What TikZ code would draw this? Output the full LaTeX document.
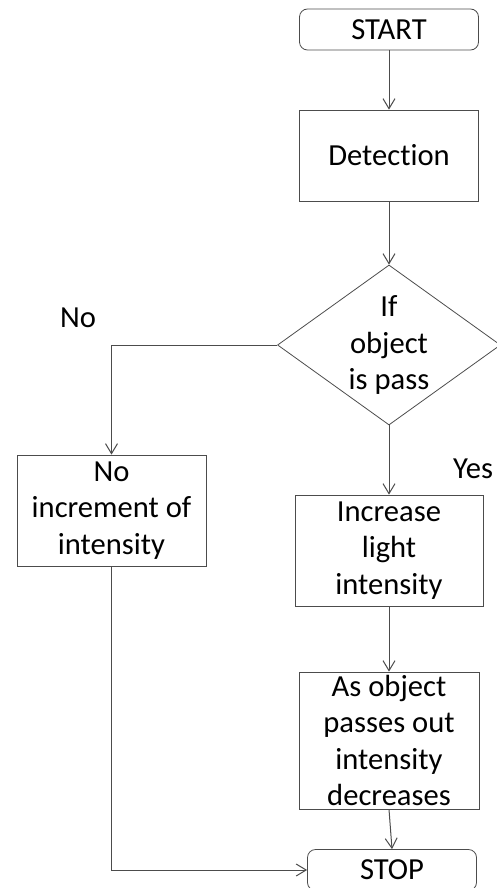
\documentclass[tikz,border=0pt]{standalone}
\usepackage{fontspec}
\setmainfont{Carlito}[Ligatures={NoCommon}]
\usetikzlibrary{shapes.geometric, arrows, arrows.meta}
\definecolor{linegray}{gray}{0.3}
\tikzstyle{startstop} = [rectangle, rounded corners=4pt, minimum width=89.5pt, minimum height=20.5pt, text centered, draw=linegray, inner sep=0pt]
\tikzstyle{process} = [rectangle, minimum width=94pt, minimum height=55.5pt, align=center, draw=linegray, inner sep=0pt]
\tikzstyle{decision} = [diamond, aspect=1.39, minimum width=111.5pt, minimum height=80pt, align=center, draw=linegray, inner sep=0pt]
\tikzstyle{arrow} = [line width=0.5pt, draw=linegray, ->, >={Straight Barb[length=5pt,width=6pt]}]

\begin{document}
\begin{tikzpicture}[node distance=60pt, font=\fontsize{15.3pt}{18.25pt}\selectfont]
\useasboundingbox (0,0) rectangle (248.5pt,-444pt);

\node (start) [startstop] at (194.5pt,-14.75pt) {START};

\node (detect) [process, minimum width=89.5pt, minimum height=45.5pt, below of=start, yshift=-3pt] {Detection};

\node (pass) [decision, below of=detect, yshift=-34.75pt] {If\\object\\is pass};

\node (incr) [process, below of=pass, yshift=-42.75pt] {Increase\\light\\intensity};

\node (decr) [process, minimum width=90pt, minimum height=68.5pt, below of=incr, yshift=-35pt] {As object\\passes out\\intensity\\decreases};

\node (stop) [startstop, minimum width=84.5pt, below of=decr, xshift=1.5pt, yshift=-4.75pt] {STOP};

\node (noinc) [process, minimum width=94.5pt, left of=incr, xshift=-78.75pt, yshift=20pt] {No\\increment of\\intensity};

\node (no) at (39pt,-159pt) {No};
\node (yes) at (236.5pt,-234.5pt) {Yes};

\draw [arrow] (start) -- (detect);
\draw [arrow] (detect) -- (pass);
\draw [arrow] (pass.west) -| (noinc.north);
\draw [arrow] (pass) -- (incr);
\draw [arrow] (incr) -- (decr);
\draw [arrow] (decr.south) -- (stop.north);
\draw [arrow] (noinc.south) |- (stop.west);
\end{tikzpicture}
\end{document}
